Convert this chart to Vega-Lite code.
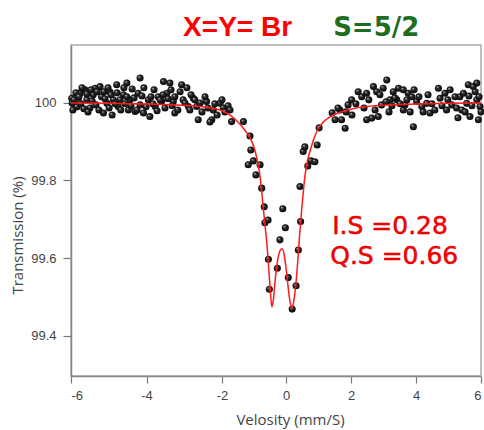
{
  "$schema": "https://vega.github.io/schema/vega-lite/v6.json",
  "width": 410,
  "height": 331,
  "autosize": {"type": "none"},
  "padding": {"left": 71, "top": 45, "right": 3, "bottom": 54},
  "background": "white",
  "config": {
    "view": {"stroke": "#aaaaaa", "strokeWidth": 1.5},
    "axis": {
      "grid": false,
      "domainColor": "#888888",
      "domainWidth": 1.5,
      "tickColor": "#777777",
      "tickWidth": 1.2,
      "tickSize": 7,
      "labelColor": "#444444",
      "labelFont": "Liberation Sans",
      "labelFontSize": 13,
      "titleFont": "Open Sans",
      "titleFontWeight": "normal",
      "titleFontSize": 15,
      "titleColor": "#444444"
    }
  },
  "datasets": {
    "points": [
      {"v": -5.98, "t": 100.011}, {"v": -5.89, "t": 99.990}, {"v": -5.81, "t": 100.003}, {"v": -5.76, "t": 100.024},
      {"v": -5.63, "t": 100.033}, {"v": -5.58, "t": 100.007}, {"v": -5.50, "t": 99.986}, {"v": -5.41, "t": 100.020},
      {"v": -5.36, "t": 100.037}, {"v": -5.23, "t": 100.041}, {"v": -5.19, "t": 100.015}, {"v": -5.14, "t": 99.973},
      {"v": -5.05, "t": 99.998}, {"v": -4.97, "t": 100.028}, {"v": -4.88, "t": 100.007}, {"v": -4.79, "t": 100.046},
      {"v": -4.75, "t": 99.990}, {"v": -4.61, "t": 100.020}, {"v": -4.52, "t": 100.050}, {"v": -4.48, "t": 99.981},
      {"v": -4.44, "t": 100.007}, {"v": -4.30, "t": 99.977}, {"v": -4.22, "t": 100.024}, {"v": -4.17, "t": 100.063},
      {"v": -4.17, "t": 99.994}, {"v": -4.08, "t": 99.973}, {"v": -3.95, "t": 100.007}, {"v": -3.91, "t": 99.964},
      {"v": -3.77, "t": 99.990}, {"v": -3.69, "t": 100.015}, {"v": -3.55, "t": 100.054}, {"v": -3.60, "t": 100.003},
      {"v": -3.46, "t": 100.024}, {"v": -3.38, "t": 100.050}, {"v": -3.29, "t": 100.003}, {"v": -3.25, "t": 99.973},
      {"v": -3.07, "t": 100.046}, {"v": -3.03, "t": 100.007}, {"v": -2.89, "t": 99.990}, {"v": -2.76, "t": 100.011},
      {"v": -2.67, "t": 99.990}, {"v": -2.63, "t": 99.956}, {"v": -2.41, "t": 100.003}, {"v": -2.27, "t": 99.956},
      {"v": -2.23, "t": 99.981}, {"v": -2.05, "t": 99.998}, {"v": -1.96, "t": 99.986},
      {"v": -5.97, "t": 99.999}, {"v": -5.95, "t": 99.981}, {"v": -5.92, "t": 100.007}, {"v": -5.87, "t": 100.025},
      {"v": -5.84, "t": 99.989}, {"v": -5.79, "t": 100.015}, {"v": -5.74, "t": 99.997}, {"v": -5.71, "t": 100.038},
      {"v": -5.66, "t": 99.984}, {"v": -5.58, "t": 100.022}, {"v": -5.55, "t": 99.976}, {"v": -5.47, "t": 100.033},
      {"v": -5.44, "t": 100.004}, {"v": -5.34, "t": 99.994}, {"v": -5.31, "t": 100.028}, {"v": -5.26, "t": 99.981},
      {"v": -5.13, "t": 100.028}, {"v": -5.10, "t": 100.010}, {"v": -5.02, "t": 100.038}, {"v": -4.99, "t": 99.986},
      {"v": -4.94, "t": 100.020}, {"v": -4.91, "t": 99.968}, {"v": -4.83, "t": 99.997}, {"v": -4.78, "t": 100.025},
      {"v": -4.70, "t": 100.007}, {"v": -4.68, "t": 99.981}, {"v": -4.60, "t": 100.038}, {"v": -4.57, "t": 99.997},
      {"v": -4.52, "t": 100.015}, {"v": -4.41, "t": 99.992}, {"v": -4.38, "t": 100.035}, {"v": -4.33, "t": 100.012},
      {"v": -4.25, "t": 99.981}, {"v": -4.12, "t": 100.017}, {"v": -4.07, "t": 100.038}, {"v": -4.01, "t": 99.989},
      {"v": -3.88, "t": 100.015}, {"v": -3.83, "t": 99.997}, {"v": -3.80, "t": 100.033}, {"v": -3.72, "t": 99.979},
      {"v": -3.64, "t": 100.007}, {"v": -3.56, "t": 100.020}, {"v": -3.51, "t": 99.986}, {"v": -3.43, "t": 100.010},
      {"v": -3.35, "t": 100.033}, {"v": -3.32, "t": 99.992}, {"v": -3.25, "t": 100.015}, {"v": -3.17, "t": 99.981},
      {"v": -3.11, "t": 100.028}, {"v": -2.98, "t": 99.999}, {"v": -2.93, "t": 100.038}, {"v": -2.85, "t": 99.981},
      {"v": -2.82, "t": 100.020}, {"v": -2.72, "t": 100.007}, {"v": -2.58, "t": 99.999}, {"v": -2.53, "t": 99.976},
      {"v": -2.45, "t": 100.015}, {"v": -2.37, "t": 99.986}, {"v": -2.32, "t": 99.950}, {"v": -2.19, "t": 99.997},
      {"v": -2.13, "t": 99.968}, {"v": -2.00, "t": 100.007}, {"v": -1.91, "t": 99.976}, {"v": -1.81, "t": 99.992},
      {"v": -1.75, "t": 99.981}, {"v": -1.70, "t": 99.951}, {"v": -1.33, "t": 99.951}, {"v": -1.125, "t": 99.914},
      {"v": -1.10, "t": 99.878}, {"v": -1.02, "t": 99.850}, {"v": -1.18, "t": 99.840}, {"v": -0.81, "t": 99.840},
      {"v": -0.94, "t": 99.814}, {"v": -0.76, "t": 99.780}, {"v": -0.68, "t": 99.732}, {"v": -0.66, "t": 99.691},
      {"v": -0.56, "t": 99.698}, {"v": -0.10, "t": 99.727}, {"v": -0.02, "t": 99.678}, {"v": -0.19, "t": 99.647},
      {"v": -0.55, "t": 99.597}, {"v": -0.27, "t": 99.574}, {"v": -0.52, "t": 99.520}, {"v": 0.07, "t": 99.550},
      {"v": 0.31, "t": 99.529}, {"v": 0.19, "t": 99.469}, {"v": 0.38, "t": 99.621}, {"v": 0.45, "t": 99.694},
      {"v": 0.43, "t": 99.784}, {"v": 0.53, "t": 99.874}, {"v": 0.58, "t": 99.886}, {"v": 0.67, "t": 99.837},
      {"v": 0.77, "t": 99.850}, {"v": 0.89, "t": 99.848}, {"v": 0.96, "t": 99.891}, {"v": 1.02, "t": 99.935},
      {"v": 1.66, "t": 99.981}, {"v": 1.51, "t": 99.956}, {"v": 1.71, "t": 99.956}, {"v": 1.82, "t": 99.934},
      {"v": 1.91, "t": 99.994}, {"v": 2.02, "t": 100.007}, {"v": 2.22, "t": 100.028}, {"v": 2.33, "t": 100.015},
      {"v": 2.48, "t": 100.024}, {"v": 2.69, "t": 100.041}, {"v": 2.79, "t": 100.028}, {"v": 2.99, "t": 100.037},
      {"v": 3.10, "t": 100.058}, {"v": 2.48, "t": 99.956}, {"v": 2.64, "t": 99.960}, {"v": 2.84, "t": 99.964},
      {"v": 2.94, "t": 99.994}, {"v": 3.20, "t": 100.007}, {"v": 3.30, "t": 100.028}, {"v": 3.46, "t": 100.037},
      {"v": 3.61, "t": 100.033}, {"v": 3.76, "t": 100.024}, {"v": 3.87, "t": 100.015}, {"v": 3.41, "t": 100.007},
      {"v": 3.61, "t": 99.981}, {"v": 3.66, "t": 99.994}, {"v": 3.92, "t": 99.938}, {"v": 4.02, "t": 100.003},
      {"v": 4.18, "t": 99.990}, {"v": 4.33, "t": 99.998}, {"v": 4.43, "t": 99.973}, {"v": 4.69, "t": 100.037},
      {"v": 4.74, "t": 100.011}, {"v": 4.89, "t": 100.024}, {"v": 4.94, "t": 99.981}, {"v": 5.10, "t": 99.994},
      {"v": 5.25, "t": 99.986}, {"v": 5.35, "t": 100.015}, {"v": 5.46, "t": 100.024}, {"v": 5.61, "t": 100.046},
      {"v": 5.76, "t": 100.041}, {"v": 5.87, "t": 100.050}, {"v": 5.66, "t": 99.964}, {"v": 5.92, "t": 99.956},
      {"v": 5.87, "t": 100.007}, {"v": 5.97, "t": 99.990}, {"v": 5.56, "t": 99.998}, {"v": 5.41, "t": 99.981},
      {"v": 1.42, "t": 99.974}, {"v": 1.60, "t": 99.986}, {"v": 1.85, "t": 99.976}, {"v": 2.03, "t": 99.968},
      {"v": 2.15, "t": 99.997}, {"v": 2.40, "t": 99.986}, {"v": 2.55, "t": 100.007}, {"v": 2.74, "t": 99.981},
      {"v": 2.89, "t": 100.020}, {"v": 3.08, "t": 100.002}, {"v": 3.17, "t": 99.976}, {"v": 3.26, "t": 99.992},
      {"v": 3.35, "t": 100.012}, {"v": 3.51, "t": 99.997}, {"v": 3.72, "t": 100.007}, {"v": 3.82, "t": 99.976},
      {"v": 3.94, "t": 100.033}, {"v": 4.09, "t": 100.015}, {"v": 4.22, "t": 99.976}, {"v": 4.37, "t": 100.020},
      {"v": 4.49, "t": 99.997}, {"v": 4.58, "t": 99.981}, {"v": 4.80, "t": 99.992}, {"v": 4.98, "t": 100.007},
      {"v": 5.05, "t": 100.033}, {"v": 5.20, "t": 100.015}, {"v": 5.29, "t": 99.961}, {"v": 5.51, "t": 99.976},
      {"v": 5.63, "t": 100.017}, {"v": 5.72, "t": 99.992}, {"v": 5.82, "t": 100.028}, {"v": 5.94, "t": 100.015},
      {"v": 6.0, "t": 99.976}
    ],
    "fit": [
      {"v": -6.0, "t": 99.999}, {"v": -5.0, "t": 99.998}, {"v": -4.0, "t": 99.996}, {"v": -3.5, "t": 99.995},
      {"v": -3.0, "t": 99.993}, {"v": -2.5, "t": 99.989}, {"v": -2.0, "t": 99.979}, {"v": -1.75, "t": 99.968},
      {"v": -1.5, "t": 99.950}, {"v": -1.25, "t": 99.925}, {"v": -1.1, "t": 99.905}, {"v": -1.0, "t": 99.885},
      {"v": -0.9, "t": 99.852}, {"v": -0.8, "t": 99.803}, {"v": -0.72, "t": 99.737}, {"v": -0.65, "t": 99.680},
      {"v": -0.59, "t": 99.630}, {"v": -0.52, "t": 99.550}, {"v": -0.47, "t": 99.495}, {"v": -0.44, "t": 99.475},
      {"v": -0.40, "t": 99.490}, {"v": -0.33, "t": 99.550}, {"v": -0.25, "t": 99.600}, {"v": -0.18, "t": 99.620},
      {"v": -0.12, "t": 99.624}, {"v": -0.06, "t": 99.610}, {"v": 0.0, "t": 99.575}, {"v": 0.06, "t": 99.530},
      {"v": 0.12, "t": 99.490}, {"v": 0.185, "t": 99.472}, {"v": 0.23, "t": 99.485}, {"v": 0.30, "t": 99.530},
      {"v": 0.36, "t": 99.590}, {"v": 0.42, "t": 99.660}, {"v": 0.49, "t": 99.732}, {"v": 0.585, "t": 99.812},
      {"v": 0.66, "t": 99.850}, {"v": 0.74, "t": 99.875}, {"v": 0.85, "t": 99.905}, {"v": 0.985, "t": 99.932},
      {"v": 1.15, "t": 99.950}, {"v": 1.35, "t": 99.963}, {"v": 1.7, "t": 99.976}, {"v": 2.0, "t": 99.983},
      {"v": 2.4, "t": 99.989}, {"v": 3.0, "t": 99.993}, {"v": 4.0, "t": 99.996}, {"v": 5.0, "t": 99.998},
      {"v": 6.0, "t": 99.999}
    ]
  },
  "encoding": {
    "x": {
      "field": "v", "type": "quantitative",
      "scale": {"domain": [-6, -2, 0, 6], "range": [0, 151, 215, 410], "zero": false, "nice": false},
      "axis": {
        "values": [-6, -4, -2, 0, 2, 4, 6],
        "labelExpr": "datum.value < 0 ? '-' + abs(datum.value) : '' + datum.value",
        "labelPadding": 6,
        "title": "Velosity (mm/S)",
        "titleX": 219, "titleY": 36, "titleBaseline": "top", "titleAnchor": "middle", "titleAlign": "center"
      }
    },
    "y": {
      "field": "t", "type": "quantitative",
      "scale": {"domain": [99.297, 100.148], "zero": false, "nice": false},
      "axis": {
        "values": [99.4, 99.6, 99.8, 100],
        "format": ".1~f",
        "tickSize": 8,
        "labelPadding": 7,
        "title": "Transmission (%)",
        "titleX": -46, "titleY": 190, "titleAlign": "center"
      }
    }
  },
  "layer": [
    {
      "data": {"name": "points"},
      "mark": {
        "type": "circle", "size": 50, "opacity": 1,
        "fill": {
          "gradient": "radial", "x1": 0.35, "y1": 0.3, "r1": 0, "x2": 0.5, "y2": 0.5, "r2": 0.55,
          "stops": [{"offset": 0, "color": "#e6e6e6"}, {"offset": 0.3, "color": "#333333"}, {"offset": 1, "color": "#000000"}]
        }
      }
    },
    {
      "data": {"name": "fit"},
      "mark": {"type": "line", "color": "#ff1a1a", "strokeWidth": 1.5, "interpolate": "monotone"}
    },
    {
      "data": {"values": [{"label": "I.S =0.28", "v": 1.42, "t": 99.662}, {"label": "Q.S =0.66", "v": 1.36, "t": 99.585}]},
      "mark": {"type": "text", "align": "left", "baseline": "alphabetic", "font": "DejaVu Sans", "fontSize": 25, "fill": "#ff0000", "stroke": "#d00000", "strokeWidth": 0.5},
      "encoding": {"text": {"field": "label"}}
    },
    {
      "data": {"values": [{"label": "X=Y= Br", "v": -3.03, "t": 100.172}]},
      "mark": {"type": "text", "align": "left", "baseline": "alphabetic", "font": "Liberation Sans", "fontWeight": "bold", "fontSize": 28, "fill": "#ff0000", "clip": false},
      "encoding": {"text": {"field": "label"}}
    },
    {
      "data": {"values": [{"label": "S=5/2", "v": 1.45, "t": 100.172}]},
      "mark": {"type": "text", "align": "left", "baseline": "alphabetic", "font": "DejaVu Sans", "fontWeight": "bold", "fontSize": 26, "fill": "#1f6e1f", "clip": false},
      "encoding": {"text": {"field": "label"}}
    }
  ]
}
